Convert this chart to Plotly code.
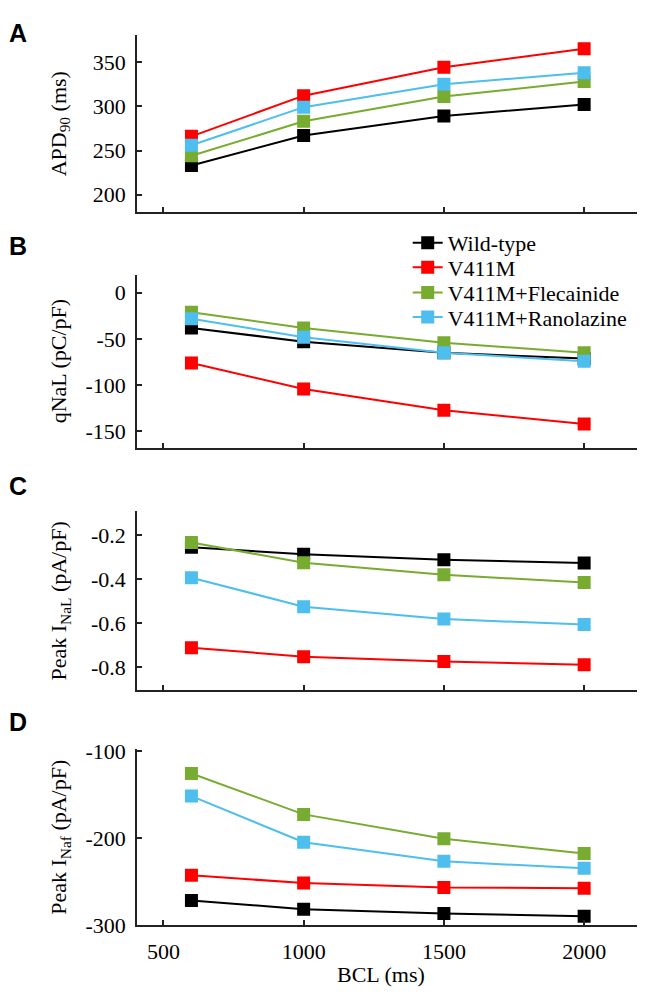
import plotly.graph_objects as go

# ---------------- data ----------------
bcl = [600, 1000, 1500, 2000]
series_names = ["Wild-type", "V411M", "V411M+Flecainide", "V411M+Ranolazine"]
series_colors = ["#000000", "#FF0000", "#77AC30", "#4DBEEE"]

# Panel A: APD90 (ms)
apd_wt = [233, 267, 289, 302]
apd_v411m = [266, 312, 344, 365]
apd_flec = [244, 283, 311, 328]
apd_rano = [256, 299, 325, 338]

# Panel B: qNaL (pC/pF)
qnal_wt = [-38, -53, -65, -71]
qnal_v411m = [-76, -104, -127, -142]
qnal_flec = [-21, -38, -54, -65]
qnal_rano = [-28, -48, -65, -74]

# Panel C: Peak INaL (pA/pF)
inal_wt = [-0.256, -0.287, -0.313, -0.327]
inal_v411m = [-0.712, -0.753, -0.775, -0.790]
inal_flec = [-0.234, -0.326, -0.381, -0.416]
inal_rano = [-0.394, -0.526, -0.582, -0.607]

# Panel D: Peak INaf (pA/pF)
inaf_wt = [-272, -282, -287, -290]
inaf_v411m = [-243, -252, -257, -258]
inaf_flec = [-126, -173, -201, -218]
inaf_rano = [-152, -205, -227, -235]

x_ticks = [500, 1000, 1500, 2000]
panel_letters = ["A", "B", "C", "D"]
y_titles = ["APD<sub>90</sub> (ms)", "qNaL (pC/pF)",
            "Peak I<sub>NaL</sub> (pA/pF)", "Peak I<sub>Naf</sub> (pA/pF)"]
y_tickvals = [[200, 250, 300, 350], [-150, -100, -50, 0],
              [-0.8, -0.6, -0.4, -0.2], [-300, -200, -100]]
y_ticktext = [["200", "250", "300", "350"], ["-150", "-100", "-50", "0"],
              ["-0.8", "-0.6", "-0.4", "-0.2"], ["-300", "-200", "-100"]]
y_ranges = [[180.4, 381], [-168, 19.6], [-0.905, -0.091], [-300, -97.5]]

panels = [
    [apd_wt, apd_v411m, apd_flec, apd_rano],
    [qnal_wt, qnal_v411m, qnal_flec, qnal_rano],
    [inal_wt, inal_v411m, inal_flec, inal_rano],
    [inaf_wt, inaf_v411m, inaf_flec, inaf_rano],
]

# ---------------- layout geometry (pixels, figure coords) ----------------
W, H = 637, 995
x_left, x_right = 129.3, 634
px_per_unit = 0.2805
panel_px = [(17, 198.7), (262.7, 440.3), (504.7, 688), (748, 928.3)]
letter_y = [None, 233.7, 478.7, 720.3]
title_x = [52, 50, 52, 52]
legend_y = [230.3, 255.3, 281.3, 306.3]
legend_x = 399.7

SERIF = "Liberation Serif"
AXC = "#222222"

fig = go.Figure()

legend_ids = ["legend", "legend2", "legend3", "legend4"]
for i, pdata in enumerate(panels):
    xa = "x" if i == 0 else f"x{i+1}"
    ya = "y" if i == 0 else f"y{i+1}"
    for j, vals in enumerate(pdata):
        fig.add_trace(go.Scatter(
            x=bcl, y=vals, mode="lines+markers",
            name=series_names[j],
            line=dict(color=series_colors[j], width=2),
            marker=dict(symbol="square", size=13, color=series_colors[j],
                        line=dict(width=0)),
            xaxis=xa, yaxis=ya,
            showlegend=(i == 1),
            legend=legend_ids[j],
        ))

layout = dict(
    width=W, height=H,
    margin=dict(l=0, r=0, t=0, b=0),
    paper_bgcolor="white", plot_bgcolor="white",
    font=dict(family=SERIF, size=22, color="black"),
    showlegend=True,
)
for j, lid in enumerate(legend_ids):
    layout[lid] = dict(
        x=legend_x / W, y=1 - legend_y[j] / H, xanchor="left", yanchor="middle",
        font=dict(family=SERIF, size=22, color="black"),
        bgcolor="rgba(0,0,0,0)", borderwidth=0, itemwidth=30,
    )

annotations = []
for i in range(4):
    xkey = "xaxis" if i == 0 else f"xaxis{i+1}"
    ykey = "yaxis" if i == 0 else f"yaxis{i+1}"
    top, bot = panel_px[i]
    layout[xkey] = dict(
        domain=[x_left / W, x_right / W],
        range=[407, 407 + (x_right - x_left) / px_per_unit],
        tickvals=x_ticks,
        ticktext=[str(v) for v in x_ticks],
        showticklabels=(i == 3),
        ticks="inside", ticklen=5, tickwidth=2, tickcolor=AXC,
        showline=True, linecolor=AXC, linewidth=2.2,
        showgrid=False, zeroline=False,
        ticklabelstandoff=6,
        tickfont=dict(family=SERIF, size=22, color="black"),
        anchor="y" if i == 0 else f"y{i+1}",
        fixedrange=True,
    )
    layout[ykey] = dict(
        domain=[1 - bot / H, 1 - top / H],
        range=y_ranges[i],
        tickvals=y_tickvals[i],
        ticktext=y_ticktext[i],
        ticks="inside", ticklen=5, tickwidth=2, tickcolor=AXC,
        showline=True, linecolor=AXC, linewidth=2.2,
        showgrid=False, zeroline=False,
        ticklabelstandoff=5,
        tickfont=dict(family=SERIF, size=22, color="black"),
        anchor="x" if i == 0 else f"x{i+1}",
        fixedrange=True,
    )
    # panel letters
    ly = letter_y[i]
    annotations.append(dict(
        text=f"<b>{panel_letters[i]}</b>", x=0,
        y=1 if ly is None else 1 - ly / H,
        xref="paper", yref="paper", xanchor="left",
        yanchor="top" if ly is None else "middle",
        showarrow=False, borderpad=0,
        font=dict(family="Liberation Sans", size=25, color="black"),
    ))
    # y-axis titles
    annotations.append(dict(
        text=y_titles[i], x=title_x[i] / W, y=1 - (top + bot) / 2 / H,
        xref="paper", yref="paper", xanchor="center", yanchor="middle",
        textangle=-90, showarrow=False,
        font=dict(family=SERIF, size=22, color="black"),
    ))

annotations.append(dict(
    text="BCL (ms)", x=372.5 / W, y=1 - 979 / H,
    xref="paper", yref="paper", xanchor="center", yanchor="middle",
    showarrow=False, font=dict(family=SERIF, size=22, color="black"),
))

layout["annotations"] = annotations
fig.update_layout(**layout)

fig.write_html("out.html")
